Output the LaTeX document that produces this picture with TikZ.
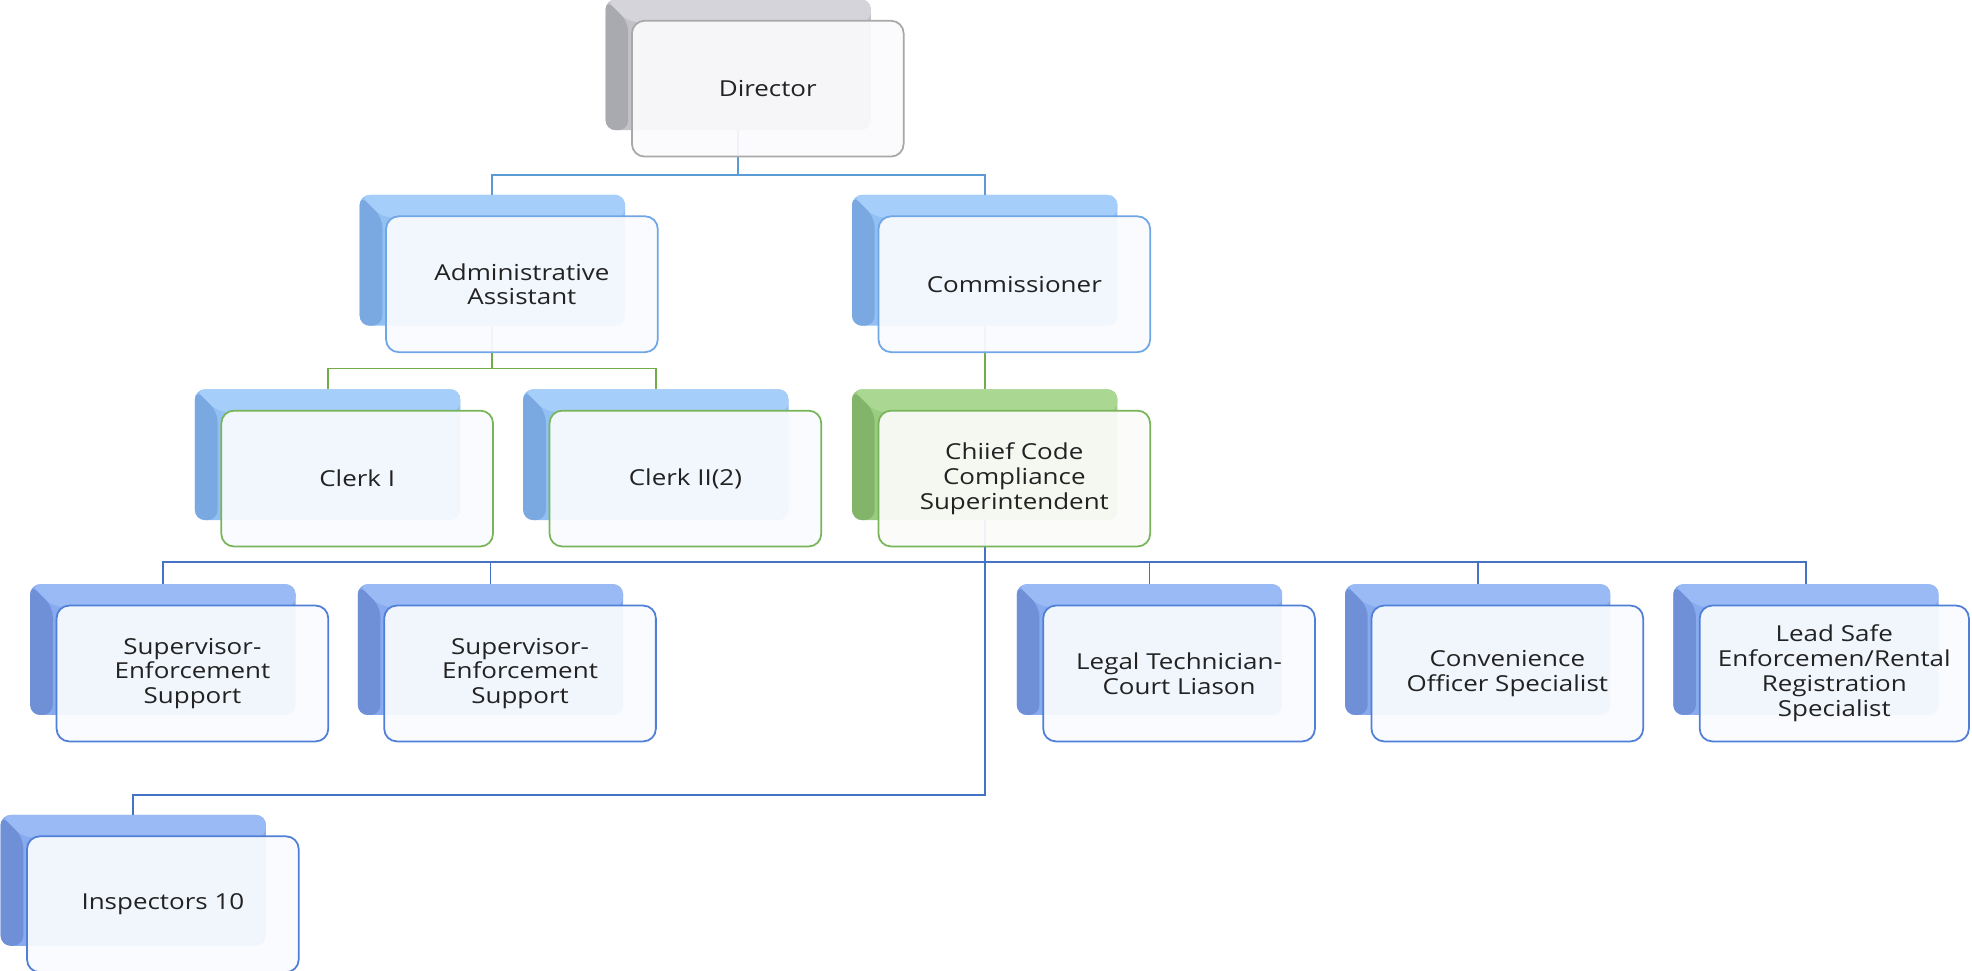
\documentclass[tikz,border=0pt]{standalone}
\usepackage{fontspec}
\newfontfamily\bodyfont[FakeStretch=1.18]{Open Sans}
\definecolor{gmain}{HTML}{C2C2C8}
\definecolor{gdark}{HTML}{A9A9B0}
\definecolor{glight}{HTML}{D4D4DA}
\definecolor{lbmain}{HTML}{92C0F2}
\definecolor{lbdark}{HTML}{7AA8E0}
\definecolor{lblight}{HTML}{A6CEFA}
\definecolor{mbmain}{HTML}{88AAEE}
\definecolor{mbdark}{HTML}{6F90D6}
\definecolor{mblight}{HTML}{9ABAF6}
\definecolor{grmain}{HTML}{9ACC82}
\definecolor{grdark}{HTML}{82B46A}
\definecolor{grlight}{HTML}{AAD892}
\definecolor{grayline}{HTML}{A8A8A8}
\definecolor{lbline}{HTML}{6FA6E6}
\definecolor{mbline}{HTML}{4F7FD6}
\definecolor{grline}{HTML}{78B45A}
\definecolor{conA}{HTML}{5B9BD5}
\definecolor{conG}{HTML}{70AD47}
\definecolor{conB}{HTML}{4472C4}
\definecolor{fillA}{HTML}{FBFAFC}
\definecolor{fillB}{HTML}{FAFBFE}
\definecolor{fillG}{HTML}{FBFCFA}
\definecolor{txt}{HTML}{222222}
\tikzset{
  backbox/.style={rounded corners=8pt, minimum width=211pt, minimum height=104pt,
    inner sep=0pt, fill=#1main,
    path picture={
      \fill[#1light] (path picture bounding box.north west) -- (path picture bounding box.north east)
        -- ([yshift=-18pt]path picture bounding box.north east)
        -- ([xshift=18pt,yshift=-18pt]path picture bounding box.north west) -- cycle;
      \fill[#1dark] (path picture bounding box.north west)
        -- ([xshift=18pt,yshift=-18pt]path picture bounding box.north west)
        -- ([xshift=18pt]path picture bounding box.south west)
        -- (path picture bounding box.south west) -- cycle;
    }},
  frontbox/.style 2 args={draw=#1, fill=#2, line width=1.4pt, rounded corners=10pt,
    minimum width=216pt, minimum height=108pt, inner sep=2pt,
    fill opacity=0.93, draw opacity=1, text opacity=1, align=center, text=txt,
    font={\bodyfont\fontsize{17.5}{19.8}\selectfont}},
  conn/.style={draw=#1, line width=1.4pt},
}
\begin{document}
\begin{tikzpicture}[x=1pt,y=-1pt]
\useasboundingbox (0,0) rectangle (1568,772);
% back boxes
\node[backbox=g]  (dirB) at (587,51.5) {};
\node[backbox=lb] (admB) at (391.5,207) {};
\node[backbox=lb] (comB) at (783,207) {};
\node[backbox=lb] (clk1B) at (260.5,361.5) {};
\node[backbox=lb] (clk2B) at (521.5,361.5) {};
\node[backbox=gr] (chfB) at (783,361.5) {};
\node[backbox=mb] (sup1B) at (129.5,516.5) {};
\node[backbox=mb] (sup2B) at (390,516.5) {};
\node[backbox=mb] (legB) at (914,516.5) {};
\node[backbox=mb] (conB) at (1175,516.5) {};
\node[backbox=mb] (leadB) at (1436,516.5) {};
\node[backbox=mb] (insB) at (106,700) {};
% junctions
\coordinate (j1) at (0,139);
\coordinate (j2) at (0,293);
\coordinate (j3) at (0,447);
\coordinate (j4) at (0,632);
% connectors
\draw[conn=conA] (dirB.south) -- (dirB.south |- j1) -| (admB.north);
\draw[conn=conA] (dirB.south |- j1) -| (comB.north);
\draw[conn=conG] (admB.south) -- (admB.south |- j2) -| (clk1B.north);
\draw[conn=conG] (admB.south |- j2) -| (clk2B.north);
\draw[conn=conG] (comB.south) -- (chfB.north);
\draw[conn=conB] (chfB.south) -- (chfB.south |- j4) -| (insB.north);
\draw[conn=conB] (sup1B.north) |- (chfB.south |- j3) -| (leadB.north);
\draw[conn=conB] (chfB.south |- j3) -| (sup2B.north);
\draw[conn=conB] (chfB.south |- j3) -| (legB.north);
\draw[conn=conB] (chfB.south |- j3) -| (conB.north);
% front boxes
\node[frontbox={grayline}{fillA}] (dir) at ([shift={(23.5,19)}]dirB.center) {Director};
\node[frontbox={lbline}{fillB}] (adm) at ([shift={(23.5,19)}]admB.center) {Administrative\\Assistant};
\node[frontbox={lbline}{fillB}] (com) at ([shift={(23.5,19)}]comB.center) {Commissioner};
\node[frontbox={grline}{fillB}] (clk1) at ([shift={(23.5,19)}]clk1B.center) {Clerk I};
\node[frontbox={grline}{fillB}] (clk2) at ([shift={(23.5,19)}]clk2B.center) {Clerk II(2)};
\node[frontbox={grline}{fillG}] (chf) at ([shift={(23.5,19)}]chfB.center) {Chiief Code\\Compliance\\Superintendent};
\node[frontbox={mbline}{fillB}] (sup1) at ([shift={(23.5,19)}]sup1B.center) {Supervisor-\\Enforcement\\Support};
\node[frontbox={mbline}{fillB}] (sup2) at ([shift={(23.5,19)}]sup2B.center) {Supervisor-\\Enforcement\\Support};
\node[frontbox={mbline}{fillB}] (leg) at ([shift={(23.5,19)}]legB.center) {Legal Technician-\\Court Liason};
\node[frontbox={mbline}{fillB}] (con) at ([shift={(23.5,19)}]conB.center) {Convenience\\Officer Specialist};
\node[frontbox={mbline}{fillB}, minimum width=214pt] (lead) at ([shift={(22.5,19)}]leadB.center) {Lead Safe\\Enforcemen/Rental\\Registration\\Specialist};
\node[frontbox={mbline}{fillB}] (ins) at ([shift={(23.5,19)}]insB.center) {Inspectors 10};
\end{tikzpicture}
\end{document}
